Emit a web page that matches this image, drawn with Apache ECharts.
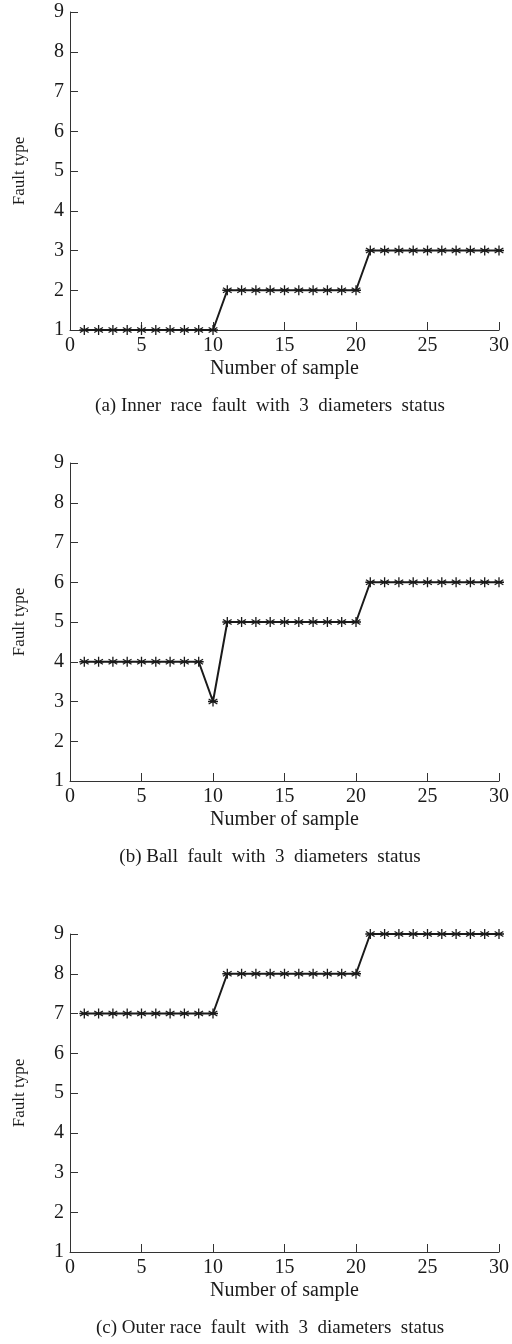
<!DOCTYPE html>
<html>
<head>
<meta charset="utf-8">
<script src="https://cdn.jsdelivr.net/npm/echarts@6/dist/echarts.min.js"></script>
<style>
html,body{margin:0;padding:0;background:#fff;}
#chart{width:512px;height:1344px;}
</style>
</head>
<body>
<div id="chart"></div>
<script>
// Data
var samples = [1,2,3,4,5,6,7,8,9,10,11,12,13,14,15,16,17,18,19,20,21,22,23,24,25,26,27,28,29,30];
var innerRace = [1,1,1,1,1,1,1,1,1,1, 2,2,2,2,2,2,2,2,2,2, 3,3,3,3,3,3,3,3,3,3];
var ballFault = [4,4,4,4,4,4,4,4,4,3, 5,5,5,5,5,5,5,5,5,5, 6,6,6,6,6,6,6,6,6,6];
var outerRace = [7,7,7,7,7,7,7,7,7,7, 8,8,8,8,8,8,8,8,8,8, 9,9,9,9,9,9,9,9,9,9];
var captions = [
  '(a) Inner  race  fault  with  3  diameters  status',
  '(b) Ball  fault  with  3  diameters  status',
  '(c) Outer race  fault  with  3  diameters  status'
];
var xName = 'Number of sample';
var yName = 'Fault type';

var FONT = '"Liberation Serif", "DejaVu Serif", serif';
var INK = '#1a1a1a';
var star = 'path://M0,-1L0,1M-0.87,-0.5L0.87,0.5M-0.87,0.5L0.87,-0.5M-1,0L1,0';

var grids = [
  {left: 70, right: 13, top: 12, height: 318},
  {left: 70, right: 13, top: 463, height: 318},
  {left: 70, right: 13, top: 934, height: 318}
];
var seriesData = [innerRace, ballFault, outerRace];

function pairs(ys){ return samples.map(function(x,i){ return [x, ys[i]]; }); }

var xAxes = [], yAxes = [], series = [], graphics = [];
grids.forEach(function(g, i){
  xAxes.push({
    gridIndex: i, type: 'value', min: 0, max: 30, interval: 5,
    name: xName, nameLocation: 'middle', nameGap: 29,
    nameTextStyle: {fontFamily: FONT, fontSize: 20, color: INK},
    axisLine: {show: true, lineStyle: {color: '#333', width: 1}},
    axisTick: {show: true, inside: true, length: 8, lineStyle: {color: '#333'}},
    axisLabel: {fontFamily: FONT, fontSize: 20, color: INK, margin: 6},
    splitLine: {show: false}
  });
  yAxes.push({
    gridIndex: i, type: 'value', min: 1, max: 9, interval: 1,
    name: yName, nameLocation: 'middle', nameGap: 42,
    nameTextStyle: {fontFamily: FONT, fontSize: 17, color: INK},
    axisLine: {show: true, lineStyle: {color: '#333', width: 1}},
    axisTick: {show: true, inside: true, length: 8, lineStyle: {color: '#333'}},
    axisLabel: {fontFamily: FONT, fontSize: 20, color: INK, margin: 6},
    splitLine: {show: false}
  });
  series.push({
    type: 'line', xAxisIndex: i, yAxisIndex: i, data: pairs(seriesData[i]),
    clip: false, animation: false,
    symbol: star, symbolSize: 10,
    lineStyle: {color: INK, width: 2},
    itemStyle: {color: INK, borderColor: INK, borderWidth: 1.3}
  });
  var bottom = g.top + g.height;
  graphics.push({
    type: 'text', x: 270, y: bottom + 76,
    style: {text: captions[i], font: '19px ' + FONT, fill: INK, textAlign: 'center', textVerticalAlign: 'middle'}
  });
});

var chart = echarts.init(document.getElementById('chart'), null, {renderer: 'canvas'});
chart.setOption({
  backgroundColor: '#fff',
  animation: false,
  grid: grids,
  xAxis: xAxes,
  yAxis: yAxes,
  series: series,
  graphic: graphics
});
</script>
</body>
</html>
